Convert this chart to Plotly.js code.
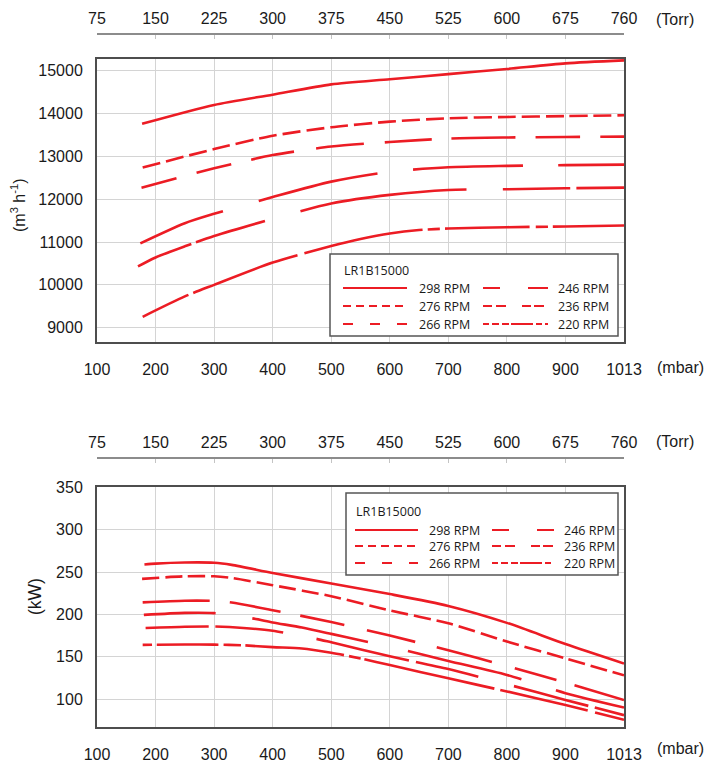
<!DOCTYPE html>
<html>
<head>
<meta charset="utf-8">
<script src="https://cdn.plot.ly/plotly-3.0.1.min.js"></script>
<style>
  html, body { margin: 0; padding: 0; background: #fff; }
  #chart { width: 722px; height: 765px; }
</style>
</head>
<body>
<div id="chart"></div>
<script>
// axis ticks; the last mbar column (1013, atmosphere) sits on the 1000 grid position
const mbarTicks = [100, 200, 300, 400, 500, 600, 700, 800, 900, 1000];
const mbarLabels = ['100', '200', '300', '400', '500', '600', '700', '800', '900', '1013'];
const torrLabels = ['75', '150', '225', '300', '375', '450', '525', '600', '675', '760'];
const flowTicks = [9000, 10000, 11000, 12000, 13000, 14000, 15000];
const powerTicks = [100, 150, 200, 250, 300, 350];

const model = 'LR1B15000';
const rpmNames = ['298 RPM', '276 RPM', '266 RPM', '246 RPM', '236 RPM', '220 RPM'];

// pumping speed (m3/h) vs inlet pressure (mbar)
const flow298X = [177, 300, 400, 500, 600, 700, 800, 900, 1000];
const flow298Y = [13760, 14200, 14440, 14680, 14800, 14920, 15040, 15170, 15240];
const flow276X = [178, 300, 400, 500, 600, 700, 800, 900, 1000];
const flow276Y = [12740, 13170, 13480, 13680, 13810, 13890, 13920, 13940, 13960];
const flow266X = [176, 238, 300, 400, 500, 600, 700, 800, 900, 1000];
const flow266Y = [12270, 12500, 12720, 13030, 13230, 13335, 13415, 13440, 13452, 13460];
const flow246X = [174, 250, 300, 400, 500, 600, 700, 800, 900, 1000];
const flow246Y = [10970, 11440, 11660, 12050, 12410, 12640, 12745, 12777, 12795, 12808];
const flow236X = [170, 200, 250, 300, 400, 500, 600, 700, 800, 900, 1000];
const flow236Y = [10430, 10640, 10900, 11140, 11540, 11900, 12100, 12215, 12232, 12254, 12270];
const flow220X = [178, 250, 300, 400, 500, 550, 600, 650, 700, 800, 900, 1000];
const flow220Y = [9254, 9730, 10000, 10520, 10905, 11070, 11200, 11280, 11316, 11346, 11362, 11385];

// shaft power (kW) vs inlet pressure (mbar)
const pow298X = [181, 200, 250, 300, 330, 400, 500, 600, 700, 800, 900, 1000];
const pow298Y = [259, 260, 261.3, 261, 258.5, 249, 236.5, 224, 210, 190, 165, 142];
const pow276X = [177, 250, 300, 330, 400, 500, 600, 700, 800, 900, 1000];
const pow276Y = [242, 245, 245, 243, 234.5, 221.5, 204.7, 189.5, 168, 148, 128];
const pow266X = [178, 250, 300, 330, 400, 500, 600, 700, 800, 900, 1000];
const pow266Y = [214.2, 216.2, 216, 214, 205, 191, 175, 157.6, 139, 119.6, 98.8];
const pow246X = [180, 250, 300, 364, 400, 450, 500, 553, 600, 700, 800, 900, 1000];
const pow246Y = [199.4, 201.8, 201.5, 195.5, 190.5, 184.5, 177, 168.8, 162, 145, 128.5, 107, 90];
const pow236X = [183, 250, 300, 350, 400, 472, 500, 600, 700, 800, 900, 1000];
const pow236Y = [184, 185.5, 185.7, 184, 180.7, 171.5, 167, 150.5, 135.5, 117.5, 99, 81];
const pow220X = [178, 250, 300, 350, 400, 450, 500, 550, 600, 700, 800, 900, 1000];
const pow220Y = [164, 164.5, 164.3, 163.5, 161.3, 159.8, 154.7, 148, 140.2, 124.5, 109, 93, 75.5];

const flowX = [flow298X, flow276X, flow266X, flow246X, flow236X, flow220X];
const flowY = [flow298Y, flow276Y, flow266Y, flow246Y, flow236Y, flow220Y];
const powX = [pow298X, pow276X, pow266X, pow246X, pow236X, pow220X];
const powY = [pow298Y, pow276Y, pow266Y, pow246Y, pow236Y, pow220Y];

// dash styles as drawn in the original (they are not regular)
const flowDash = ['solid', '18px,6px',
  '36px,21px,36px,20px,44px,22px,48px,21px,47px,20px,64px,20px,45px,20px,30px',
  '89px,37px,122px,36px,110px,35px,70px',
  '58px,5px,72px,37px,168px,36px,68px,6px,50px',
  '51px,5px,111px,7px,121px,5px,12px,5px,85px,6px,12px,5px,80px'];
const powDash = ['solid', '17px,6px',
  '67px,20px,52px,20px,45px,23px,50px,22px,57px,24px,43px,19px,60px',
  '72px,37px,118px,41px,117px,36px,80px',
  '63px,7px,68px,34px,95px,7px,64px,37px,77px,7px,40px',
  '9px,5px,62px,5px,17px,5px,99px,5px,12px,4px,133px,6px,90px,8px,40px'];
const legendDash = ['solid', '8px,5px', '10px,17px', '17px,28px,20px',
  '9px,4px,10px,16px,9px,3px,10px', '6px,3px,7px,3px,7px,2px,22px,3px,6px,3px,7px'];

const W = 722, H = 765;
const RED = '#ec1c24';
const FONT = 'Liberation Sans, Arial, sans-serif';
const LFONT = 'Open Sans, Noto Sans, sans-serif';
function px(x) { return x / W; }
function py(y) { return 1 - y / H; }

var data = [];
rpmNames.forEach((name, i) => {
  data.push({type: 'scatter', mode: 'lines', name: name, x: flowX[i], y: flowY[i], xaxis: 'x', yaxis: 'y',
    line: {color: RED, width: 2.6, dash: flowDash[i], shape: 'spline', smoothing: 0.7}, hoverinfo: 'skip'});
});
rpmNames.forEach((name, i) => {
  data.push({type: 'scatter', mode: 'lines', name: name, x: powX[i], y: powY[i], xaxis: 'x3', yaxis: 'y3',
    line: {color: RED, width: 2.6, dash: powDash[i], shape: 'spline', smoothing: 0.7}, hoverinfo: 'skip'});
});
// empty traces so the Torr scales get drawn
data.push({type: 'scatter', x: [], y: [], xaxis: 'x2', yaxis: 'y'});
data.push({type: 'scatter', x: [], y: [], xaxis: 'x4', yaxis: 'y3'});

const tickFont = {family: FONT, size: 16, color: '#1a1a1a'};
function mbarAxis(anchor) {
  return {domain: [px(97), px(624)], anchor: anchor, range: [100, 1000], tickmode: 'array',
    tickvals: mbarTicks, ticktext: mbarLabels, showgrid: true, gridcolor: '#d4d4d4', gridwidth: 1,
    showline: true, linecolor: '#4d4d4d', linewidth: 2, mirror: true, ticks: '', ticklabelstandoff: 12,
    tickfont: tickFont, zeroline: false, fixedrange: true};
}
function torrAxis(over, ypix) {
  return {overlaying: over, anchor: 'free', position: py(ypix), side: 'top', range: [100, 1000],
    tickmode: 'array', tickvals: mbarTicks, ticktext: torrLabels, showgrid: false, showline: true,
    linecolor: '#8c8c8c', linewidth: 1.5, ticks: 'inside', ticklen: 4, tickcolor: '#c4c4c4',
    ticklabelstandoff: 3, tickfont: tickFont, zeroline: false, fixedrange: true};
}
function valAxis(anchor, dom, rng, ticks) {
  return {domain: dom, anchor: anchor, range: rng, tickmode: 'array', tickvals: ticks, tickformat: 'd',
    showgrid: true, gridcolor: '#d4d4d4', gridwidth: 1, showline: true, linecolor: '#4d4d4d',
    linewidth: 2, mirror: true, ticks: '', ticklabelstandoff: 9, tickfont: tickFont,
    zeroline: false, fixedrange: true};
}

// annotations and the hand-made legends
var annotations = [
  {text: '(m<sup>3</sup> h<sup>-1</sup>)', x: px(18), y: py(205), textangle: -90},
  {text: '(kW)', x: px(35), y: py(597), textangle: -90, font: {family: FONT, size: 17.5, color: '#1a1a1a'}},
  {text: '(Torr)', x: px(675), y: py(19)},
  {text: '(mbar)', x: px(680), y: py(367)},
  {text: '(Torr)', x: px(675), y: py(442)},
  {text: '(mbar)', x: px(680), y: py(748)},
].map(a => Object.assign({xref: 'paper', yref: 'paper', showarrow: false, xanchor: 'center',
  yanchor: 'middle', font: tickFont}, a));
var shapes = [];

const legFont = {family: LFONT, size: 12.5, color: '#1a1a1a'};
function addLegend(box, titleY, rows, cols) {
  shapes.push({type: 'rect', xref: 'paper', yref: 'paper', x0: px(box[0]), x1: px(box[2]),
    y0: py(box[1]), y1: py(box[3]), line: {color: '#555', width: 1.5}, fillcolor: '#fff', layer: 'above'});
  annotations.push({xref: 'paper', yref: 'paper', showarrow: false, text: model, x: px(cols[0][0] - 1),
    y: py(titleY), xanchor: 'left', yanchor: 'middle', height: 15, font: legFont});
  rpmNames.forEach((name, i) => {
    var c = cols[Math.floor(i / 3)], yy = rows[i % 3];
    shapes.push({type: 'line', xref: 'paper', yref: 'paper', x0: px(c[0]), x1: px(c[1]), y0: py(yy), y1: py(yy),
      line: {color: RED, width: 2.2, dash: legendDash[i]}, layer: 'above'});
    annotations.push({xref: 'paper', yref: 'paper', showarrow: false, text: name, x: px(c[2]), y: py(yy),
      xanchor: 'left', yanchor: 'middle', height: 15, valign: 'middle', font: legFont});
  });
}
addLegend([330, 254, 618, 336], 270, [288, 306, 324], [[343, 407, 417], [483, 548, 556]]);
addLegend([346, 493, 618, 575], 512, [530, 546, 563], [[355, 418, 427], [492, 554, 562]]);

var layout = {
  width: W, height: H,
  margin: {l: 0, r: 0, t: 0, b: 0},
  paper_bgcolor: '#fff', plot_bgcolor: '#fff',
  showlegend: false, hovermode: false,
  xaxis: mbarAxis('y'),
  yaxis: valAxis('x', [py(342), py(59)], [8666, 15273], flowTicks),
  xaxis2: torrAxis('x', 33),
  xaxis3: mbarAxis('y3'),
  yaxis3: valAxis('x3', [py(727), py(487)], [67, 350.5], powerTicks),
  xaxis4: torrAxis('x3', 457),
  annotations: annotations,
  shapes: shapes,
};

Plotly.newPlot('chart', data, layout, {displayModeBar: false, staticPlot: true});
</script>
</body>
</html>
